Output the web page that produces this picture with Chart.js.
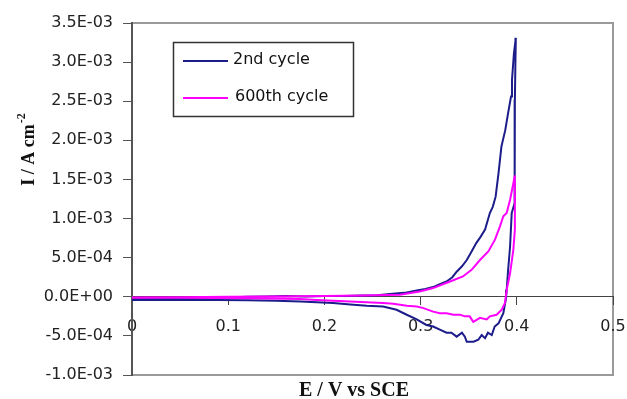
<!DOCTYPE html>
<html><head><meta charset="utf-8">
<script src="https://cdn.jsdelivr.net/npm/chart.js@4.4.1/dist/chart.umd.min.js"></script>
<style>html,body{margin:0;padding:0;background:#fff}#wrap{width:627px;height:399px}</style>
</head><body><div id="wrap"><canvas id="c" width="627" height="399"></canvas></div>
<script>
// ---- data ----
const seriesLabels = ['2nd cycle', '600th cycle'];
const seriesColors = ['#1c1c8a', '#ff00ff'];

// 2nd cycle: forward (anodic) sweep then reverse sweep
const cycle2E = [
  0, 0.02, 0.05, 0.08, 0.10, 0.12, 0.14, 0.16, 0.18, 0.20, 0.22, 0.24, 0.255, 0.268, 0.283,
  0.296, 0.305, 0.313, 0.320, 0.327, 0.333, 0.3375, 0.343, 0.348, 0.353, 0.358, 0.362, 0.367,
  0.372, 0.375, 0.378, 0.381, 0.384, 0.388, 0.391, 0.394, 0.395, 0.397, 0.399,
  0.3986, 0.398, 0.398, 0.3975, 0.3947, 0.393, 0.391, 0.3895, 0.3888, 0.386, 0.381, 0.377,
  0.374, 0.370, 0.367, 0.3635, 0.360, 0.355, 0.348, 0.346, 0.343, 0.3375, 0.332, 0.327, 0.320,
  0.313, 0.306, 0.296, 0.2856, 0.275, 0.261, 0.244, 0.227, 0.209, 0.192, 0.175, 0.15, 0.12,
  0.09, 0.06, 0.03, 0
];
const cycle2I = [
  -3e-5, -3e-5, -2.5e-5, -1.5e-5, -1e-5, 0, 5e-6, 1e-5, 5e-6, 1e-5, 1e-5, 1.5e-5, 2e-5, 3.4e-5, 5e-5,
  8e-5, 1.0e-4, 1.24e-4, 1.6e-4, 1.96e-4, 2.5e-4, 3.2e-4, 3.9e-4, 4.7e-4, 5.8e-4, 6.9e-4, 7.6e-4, 8.6e-4,
  1.07e-3, 1.15e-3, 1.28e-3, 1.58e-3, 1.92e-3, 2.13e-3, 2.35e-3, 2.56e-3, 2.77e-3, 3.11e-3, 3.31e-3,
  3.03e-3, 2.52e-3, 1.5e-3, 1.2e-3, 1.07e-3, 6.4e-4, 3.45e-4, 9e-5, -1.7e-5, -2.1e-4, -3.4e-4, -3.8e-4,
  -4.9e-4, -4.6e-4, -5.3e-4, -4.9e-4, -5.5e-4, -5.75e-4, -5.75e-4, -5.1e-4, -4.6e-4, -5.1e-4, -4.6e-4, -4.6e-4, -4.2e-4,
  -3.8e-4, -3.6e-4, -2.9e-4, -2.3e-4, -1.66e-4, -1.24e-4, -1.15e-4, -1.0e-4, -8e-5, -7e-5, -6e-5, -5e-5, -4.5e-5,
  -4e-5, -4e-5, -4e-5, -4e-5
];

// 600th cycle
const cycle600E = [
  0, 0.05, 0.10, 0.15, 0.20, 0.24, 0.2786, 0.299, 0.313, 0.3306, 0.344, 0.353, 0.3617, 0.3704,
  0.3773, 0.3825, 0.386, 0.3895, 0.393, 0.3964, 0.398,
  0.398, 0.398, 0.3964, 0.393, 0.3895, 0.3877, 0.3843, 0.379, 0.372, 0.3687, 0.3617, 0.3548,
  0.351, 0.346, 0.341, 0.334, 0.327, 0.320, 0.313, 0.303, 0.296, 0.2856, 0.2716, 0.261, 0.244,
  0.2266, 0.209, 0.192, 0.1746, 0.1227, 0.05, 0
];
const cycle600I = [
  -1e-5, -5e-6, 0, 5e-6, 1e-5, 1.5e-5, 2.6e-5, 6.8e-5, 1.11e-4, 1.96e-4, 2.6e-4, 3.45e-4, 4.7e-4, 5.8e-4,
  7.3e-4, 9.0e-4, 1.03e-3, 1.07e-3, 1.24e-3, 1.45e-3, 1.55e-3,
  1.28e-3, 8.6e-4, 6.0e-4, 3.0e-4, 9e-5, -8e-5, -1.66e-4, -2.3e-4, -2.5e-4, -2.9e-4, -2.7e-4, -3.2e-4,
  -2.5e-4, -2.5e-4, -2.3e-4, -2.3e-4, -2.1e-4, -2.1e-4, -1.9e-4, -1.45e-4, -1.24e-4, -1.15e-4, -9e-5, -8e-5, -7e-5,
  -6e-5, -5e-5, -4e-5, -3e-5, -2e-5, -1.3e-5, -1.3e-5
];

const xTickLabels = ['0', '0.1', '0.2', '0.3', '0.4', '0.5'];
const yTickLabels = ['-1.0E-03', '-5.0E-04', '0.0E+00', '5.0E-04', '1.0E-03', '1.5E-03',
                     '2.0E-03', '2.5E-03', '3.0E-03', '3.5E-03'];
const xTitle = 'E / V vs SCE';
const yTitle = 'I / A cm';
const yTitleSup = '-2';

// ---- chart ----
const toPoints = (xs, ys) => xs.map((x, i) => ({x: x, y: ys[i]}));
const tickFont = {family: 'DejaVu Sans', size: 16};

const decor = {
  id: 'decor',
  beforeDraw(chart) {
    const {ctx, chartArea: a} = chart;
    ctx.save();
    ctx.strokeStyle = '#9a9a9a';
    ctx.lineWidth = 2;
    ctx.strokeRect(a.left, a.top, a.right - a.left, a.bottom - a.top);
    ctx.restore();
  },
  afterDraw(chart) {
    const {ctx, chartArea: a} = chart;
    ctx.save();
    // legend box
    const lx = a.left + 41, ly = a.top + 19, lw = 180, lh = 74;
    ctx.fillStyle = '#fff';
    ctx.fillRect(lx, ly, lw, lh);
    ctx.strokeStyle = '#333';
    ctx.lineWidth = 1.5;
    ctx.strokeRect(lx + 0.5, ly + 0.5, lw, lh);
    ctx.font = '16px "DejaVu Sans"';
    ctx.textBaseline = 'middle';
    ctx.textAlign = 'left';
    chart.data.datasets.forEach((ds, i) => {
      const yy = ly + 19 + i * 37;
      ctx.strokeStyle = ds.borderColor;
      ctx.lineWidth = 2;
      ctx.beginPath();
      ctx.moveTo(lx + 10, yy);
      ctx.lineTo(lx + 55, yy);
      ctx.stroke();
      ctx.fillStyle = '#111';
      ctx.fillText(ds.label, lx + 60 + i * 2, yy - 1);
    });
    // x title
    ctx.fillStyle = '#111';
    ctx.font = 'bold 20px "Liberation Serif"';
    ctx.textAlign = 'center';
    ctx.textBaseline = 'alphabetic';
    ctx.fillText(xTitle, 354, 396);
    // y title (rotated, with superscript)
    ctx.translate(34, 150);
    ctx.rotate(-Math.PI / 2);
    ctx.font = 'bold 18px "Liberation Serif"';
    const w1 = ctx.measureText(yTitle).width;
    ctx.font = 'bold 12px "Liberation Serif"';
    const w2 = ctx.measureText(yTitleSup).width;
    const start = -(w1 + w2) / 2;
    ctx.textAlign = 'left';
    ctx.font = 'bold 18px "Liberation Serif"';
    ctx.fillText(yTitle, start, 0);
    ctx.font = 'bold 12px "Liberation Serif"';
    ctx.fillText(yTitleSup, start + w1 + 1, -9);
    ctx.restore();
  }
};

new Chart(document.getElementById('c'), {
  type: 'scatter',
  data: {
    datasets: [
      {label: seriesLabels[0], data: toPoints(cycle2E, cycle2I), borderColor: seriesColors[0],
       backgroundColor: seriesColors[0], showLine: true, pointRadius: 0, borderWidth: 2, order: 2},
      {label: seriesLabels[1], data: toPoints(cycle600E, cycle600I), borderColor: seriesColors[1],
       backgroundColor: seriesColors[1], showLine: true, pointRadius: 0, borderWidth: 2, order: 1}
    ]
  },
  options: {
    responsive: false,
    animation: false,
    devicePixelRatio: 1,
    layout: {padding: {left: 0, right: 14, top: 23, bottom: 24}},
    plugins: {legend: {display: false}, tooltip: {enabled: false}, title: {display: false}},
    scales: {
      x: {
        type: 'linear', min: 0, max: 0.5,
        position: {y: 0},
        afterFit(s) { s.paddingLeft = 0; s.paddingRight = 0; },
        border: {display: true, color: '#444', width: 1},
        grid: {drawOnChartArea: false, drawTicks: true, tickLength: 8, color: '#444'},
        ticks: {stepSize: 0.1, padding: 12, maxRotation: 0, autoSkip: false, color: '#222', font: tickFont,
                callback: (v, i) => xTickLabels[i]}
      },
      y: {
        type: 'linear', min: -0.001, max: 0.0035,
        position: 'left',
        afterFit(s) { s.width = 132; },
        border: {display: true, color: '#555', width: 2},
        grid: {drawOnChartArea: false, drawTicks: true, tickLength: 9, color: '#555'},
        ticks: {stepSize: 0.0005, padding: 10, autoSkip: false, color: '#222', font: tickFont,
                callback: (v, i) => yTickLabels[i]}
      }
    }
  },
  plugins: [decor]
});
</script>
</body></html>
